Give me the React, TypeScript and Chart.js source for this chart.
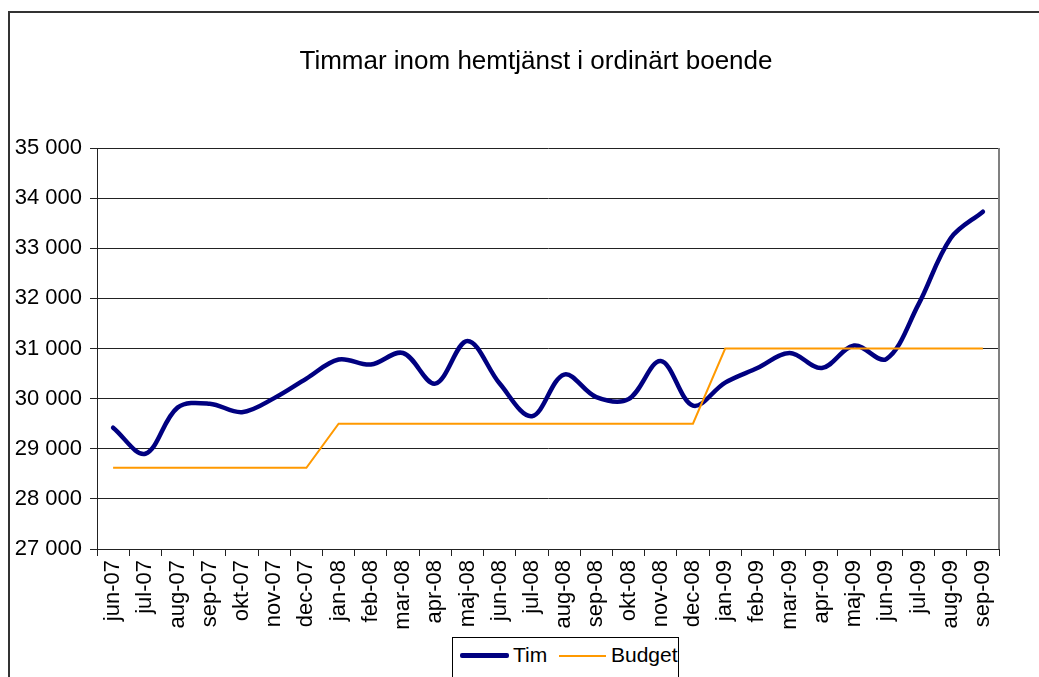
import React, { useEffect, useRef } from 'react';
import { Chart, registerables } from 'chart.js';

Chart.register(...registerables);

const months = [
  'jun-07', 'jul-07', 'aug-07', 'sep-07', 'okt-07', 'nov-07', 'dec-07',
  'jan-08', 'feb-08', 'mar-08', 'apr-08', 'maj-08', 'jun-08', 'jul-08',
  'aug-08', 'sep-08', 'okt-08', 'nov-08', 'dec-08',
  'jan-09', 'feb-09', 'mar-09', 'apr-09', 'maj-09', 'jun-09', 'jul-09', 'aug-09', 'sep-09',
];

const timValues = [
  29420, 28900, 29820, 29900, 29730, 30010, 30400,
  30780, 30680, 30910, 30300, 31150, 30300, 29650,
  30480, 30030, 29990, 30750, 29860,
  30320, 30610, 30910, 30610, 31060, 30790, 31880, 33200, 33730,
];

const budgetValues = [
  28620, 28620, 28620, 28620, 28620, 28620, 28620,
  29500, 29500, 29500, 29500, 29500, 29500, 29500,
  29500, 29500, 29500, 29500, 29500,
  31000, 31000, 31000, 31000, 31000, 31000, 31000, 31000, 31000,
];

const yMin = 27000;
const yMax = 35000;
const yStep = 1000;

const titleText = 'Timmar inom hemtjänst i ordinärt boende';
const seriesNames = ['Tim', 'Budget'];

const FONT = "'Liberation Sans', Arial, sans-serif";

const fmt = (v: number) => {
  const s = String(Math.round(v));
  return s.length > 3 ? s.slice(0, s.length - 3) + ' ' + s.slice(s.length - 3) : s;
};

const plotBorder = {
  id: 'plotBorder',
  beforeDatasetsDraw(chart: any) {
    const { ctx, chartArea: a } = chart;
    ctx.save();
    ctx.strokeStyle = '#808080';
    ctx.lineWidth = 2;
    ctx.beginPath();
    ctx.moveTo(a.right, a.top);
    ctx.lineTo(a.right, a.bottom);
    ctx.stroke();
    ctx.restore();
  },
};

export default function App() {
  const ref = useRef<HTMLCanvasElement | null>(null);

  useEffect(() => {
    if (!ref.current) return;
    const chart = new Chart(ref.current, {
      type: 'line',
      data: {
        labels: months,
        datasets: [
          {
            label: seriesNames[0],
            data: timValues,
            borderColor: '#000080',
            backgroundColor: '#000080',
            borderWidth: 4.5,
            pointRadius: 0,
            tension: 0.35,
            borderCapStyle: 'round',
            borderJoinStyle: 'round',
            order: 2,
          },
          {
            label: seriesNames[1],
            data: budgetValues,
            borderColor: '#FF9900',
            backgroundColor: '#FF9900',
            borderWidth: 2,
            pointRadius: 0,
            tension: 0,
            order: 1,
          },
        ],
      },
      options: {
        animation: false,
        responsive: false,
        maintainAspectRatio: false,
        layout: { padding: { left: 8, right: 40, top: 148, bottom: 0 } },
        plugins: {
          legend: { display: false },
          tooltip: { enabled: false },
          title: { display: false },
        },
        scales: {
          x: {
            type: 'category',
            offset: true,
            grid: {
              offset: true,
              drawOnChartArea: false,
              drawTicks: true,
              tickLength: 7,
              color: '#222',
              lineWidth: 1,
            },
            border: { display: true, color: '#222', width: 1 },
            ticks: {
              autoSkip: false,
              minRotation: 90,
              maxRotation: 90,
              padding: 4,
              color: '#000',
              font: { family: FONT, size: 22 },
            },
            afterFit: (s: any) => {
              s.height = 128;
            },
          },
          y: {
            min: yMin,
            max: yMax,
            grid: { color: '#222', lineWidth: 1, tickLength: 7, drawTicks: true },
            border: { display: true, color: '#222', width: 1 },
            ticks: {
              stepSize: yStep,
              padding: 8,
              color: '#000',
              font: { family: FONT, size: 22 },
              callback: (v: any) => fmt(Number(v)),
            },
            afterFit: (s: any) => {
              s.width = 89;
            },
          },
        },
      } as any,
      plugins: [plotBorder],
    });
    return () => chart.destroy();
  }, []);

  return (
    <div style={{ position: 'absolute', left: 0, top: 0, width: 1039, height: 677, overflow: 'hidden', background: '#fff' }}>
      <div
        style={{
          position: 'absolute',
          left: 8,
          top: 11,
          width: 2000,
          height: 2000,
          borderLeft: '2px solid #333',
          borderTop: '2px solid #333',
        }}
      />
      <canvas ref={ref} width={1039} height={677} style={{ position: 'absolute', left: 0, top: 0, width: 1039, height: 677 }} />
      <div
        style={{
          position: 'absolute',
          left: 236,
          top: 44,
          width: 600,
          textAlign: 'center',
          fontFamily: FONT,
          fontSize: 26,
          lineHeight: '32px',
          color: '#000',
          whiteSpace: 'nowrap',
        }}
      >
        {titleText}
      </div>
      <div
        style={{
          position: 'absolute',
          left: 452,
          top: 637,
          width: 225,
          height: 60,
          border: '1px solid #000',
          background: '#fff',
          fontFamily: FONT,
          fontSize: 21,
          color: '#000',
        }}
      >
        <div style={{ position: 'absolute', left: 7, top: 15, width: 49, height: 4.5, background: '#000080', borderRadius: 2 }} />
        <span style={{ position: 'absolute', left: 60, top: 4, lineHeight: '26px', whiteSpace: 'nowrap' }}>{seriesNames[0]}</span>
        <div style={{ position: 'absolute', left: 106, top: 17, width: 47, height: 2, background: '#FF9900' }} />
        <span style={{ position: 'absolute', left: 158, top: 4, lineHeight: '26px', whiteSpace: 'nowrap' }}>{seriesNames[1]}</span>
      </div>
    </div>
  );
}
